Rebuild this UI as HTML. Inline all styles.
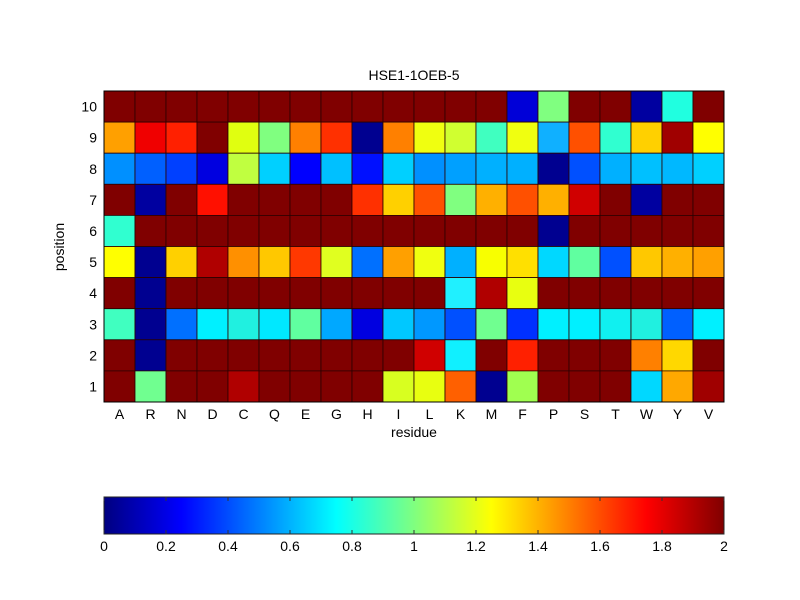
<!DOCTYPE html>
<html><head><meta charset="utf-8"><style>body{margin:0;background:#fff}svg{display:block}text{font-family:"Liberation Sans",Arial,sans-serif;font-size:14px;fill:#000}</style></head>
<body>
<svg id="s" width="800" height="600" xmlns="http://www.w3.org/2000/svg">
<defs><linearGradient id="jet" x1="0" x2="1" y1="0" y2="0">
<stop offset="0" stop-color="#000080"/><stop offset="0.125" stop-color="#0000ff"/><stop offset="0.375" stop-color="#00ffff"/><stop offset="0.625" stop-color="#ffff00"/><stop offset="0.875" stop-color="#ff0000"/><stop offset="1" stop-color="#800000"/></linearGradient></defs>
<g id="cells"></g>
<text x="414" y="80" text-anchor="middle">HSE1-1OEB-5</text>
<text x="414" y="437" text-anchor="middle">residue</text>
<text transform="translate(64,247) rotate(-90)" text-anchor="middle">position</text>
<rect x="104" y="497" width="620" height="37" fill="url(#jet)" stroke="#222" stroke-width="1"/>
<g id="cb"></g>
</svg>
<script>
var D="#800000";
var rows=[
[D,D,D,D,D,D,D,D,D,D,D,D,D,"#0000d8","#80ff80",D,D,"#0000a0","#20ffe0",D],
["#ffa000","#f00000","#ff2000",D,"#e0ff10","#80ff80","#ff8000","#ff3000","#000090","#ff8000","#f0ff10","#d0ff30","#40ffc0","#f0ff10","#10b0ff","#ff5000","#30ffd0","#ffd000","#a00000","#ffff00"],
["#0090ff","#0060ff","#0040ff","#0000e0","#c0ff40","#00d0ff","#0000ff","#00c0ff","#0010ff","#00d0ff","#0090ff","#00a0ff","#00b0ff","#00b0ff","#000090","#0050ff","#00b0ff","#00c0ff","#00b8ff","#00d0ff"],
[D,"#0000a0",D,"#ff1000",D,D,D,D,"#ff3000","#ffd000","#ff5000","#80ff80","#ffb000","#ff5000","#ffb000","#d00000",D,"#0000a0",D,D],
["#30ffd0",D,D,D,D,D,D,D,D,D,D,D,D,D,"#000090",D,D,D,D,D],
["#ffff00","#000090","#ffd000","#b00000","#ff9000","#ffc800","#ff3800","#e0ff20","#0070ff","#ffa000","#f0ff10","#00b0ff","#f8ff00","#ffe000","#00d8ff","#60ffa0","#0050ff","#ffc800","#ffb000","#ffa000"],
[D,"#000090",D,D,D,D,D,D,D,D,D,"#20f0ff","#b00000","#e8ff10",D,D,D,D,D,D],
["#40ffc0","#000090","#0070ff","#00f0ff","#20f0e0","#00e8ff","#60ffa0","#00a8ff","#0000e0","#00c8ff","#0098ff","#0050ff","#70ff90","#0030ff","#00f0ff","#00f0ff","#10f0f0","#20f0e0","#0060ff","#00f0ff"],
[D,"#000090",D,D,D,D,D,D,D,D,"#d00000","#10f0ff",D,"#ff2000",D,D,D,"#ff8000","#ffd800",D],
[D,"#70ff90",D,D,"#b00000",D,D,D,D,"#d8ff20","#e8ff10","#ff6000","#000090","#a0ff50",D,D,D,"#00d8ff","#ffa800","#a00000"]];
var res="ARNDCQEGHILKMFPSTWYV";
var x0=104,y0=91,cw=31,ch=31.1,h="";
for(var r=0;r<10;r++)for(var c=0;c<20;c++)h+='<rect x="'+(x0+c*cw)+'" y="'+(y0+r*ch)+'" width="'+cw+'" height="'+ch+'" fill="'+rows[r][c]+'" stroke="#2a0000" stroke-width="0.8"/>';
for(var c=0;c<20;c++)h+='<text x="'+(x0+c*cw+cw/2)+'" y="419" text-anchor="middle">'+res[c]+'</text>';
for(var r=0;r<10;r++)h+='<text x="97" y="'+(y0+r*ch+ch/2+5)+'" text-anchor="end">'+(10-r)+'</text>';
h+='<rect x="104" y="91" width="620" height="311" fill="none" stroke="#000" stroke-width="1"/>';
document.getElementById("cells").innerHTML=h;
var g="";
for(var i=0;i<=10;i++){var x=104+i*62;g+='<line x1="'+x+'" x2="'+x+'" y1="497" y2="501" stroke="#333"/><line x1="'+x+'" x2="'+x+'" y1="530" y2="534" stroke="#333"/>';
g+='<text x="'+x+'" y="551" text-anchor="middle">'+(i==0?"0":i==10?"2":(i*0.2).toFixed(1).replace(/\.0$/,""))+'</text>';}
document.getElementById("cb").innerHTML=g;
</script>
</body></html>
